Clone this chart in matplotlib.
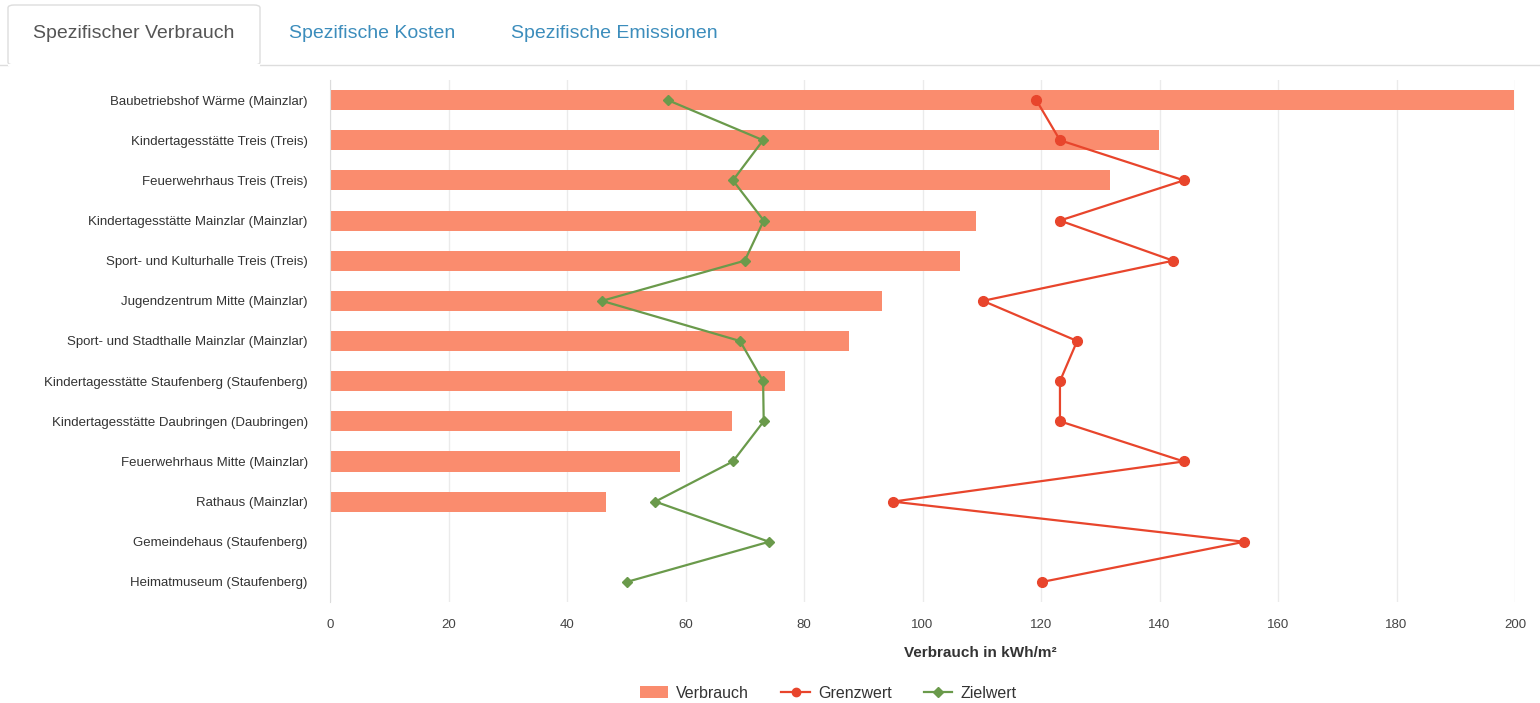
import matplotlib.pyplot as plt
from matplotlib.patches import FancyBboxPatch, Rectangle
from matplotlib.lines import Line2D

plt.rcParams['font.family'] = ['Liberation Sans', 'DejaVu Sans']

GEBAEUDE = [
    "Baubetriebshof Wärme (Mainzlar)",
    "Kindertagesstätte Treis (Treis)",
    "Feuerwehrhaus Treis (Treis)",
    "Kindertagesstätte Mainzlar (Mainzlar)",
    "Sport- und Kulturhalle Treis (Treis)",
    "Jugendzentrum Mitte (Mainzlar)",
    "Sport- und Stadthalle Mainzlar (Mainzlar)",
    "Kindertagesstätte Staufenberg (Staufenberg)",
    "Kindertagesstätte Daubringen (Daubringen)",
    "Feuerwehrhaus Mitte (Mainzlar)",
    "Rathaus (Mainzlar)",
    "Gemeindehaus (Staufenberg)",
    "Heimatmuseum (Staufenberg)",
]
VERBRAUCH = [199.8, 139.9, 131.6, 109.0, 106.3, 93.2, 87.6, 76.8, 67.8, 59.1, 46.6, None, None]
GRENZWERT = [119.2, 123.2, 144.1, 123.2, 142.3, 110.2, 126.1, 123.2, 123.2, 144.1, 95.0, 154.3, 120.2]
ZIELWERT = [57.0, 73.1, 68.0, 73.2, 70.0, 45.9, 69.2, 73.1, 73.2, 68.0, 54.9, 74.1, 50.1]
X_TICKS = [0, 20, 40, 60, 80, 100, 120, 140, 160, 180, 200]

TABS = ["Spezifischer Verbrauch", "Spezifische Kosten", "Spezifische Emissionen"]

BAR_COLOR = '#fa8c6e'
RED = '#e8452c'
GREEN = '#6a9a4b'
GRID = '#ebebeb'
TEXT = '#333333'

W, H = 1540, 703


def px(x, y):
    # pixel coords (from top-left) -> figure fraction
    return x / W, 1 - y / H


def main():
    fig = plt.figure(figsize=(W / 100, H / 100), dpi=100)

    # tab header
    tab_x0, tab_y0 = px(8, 65)
    tab_x1, tab_y1 = px(260, 5)
    tab = FancyBboxPatch((tab_x0, tab_y0), tab_x1 - tab_x0, tab_y1 - tab_y0,
                         boxstyle="round,pad=0,rounding_size=0.004",
                         transform=fig.transFigure, facecolor='white',
                         edgecolor='#dddddd', linewidth=1.0)
    fig.patches.append(tab)
    line_y = 1 - 65 / H
    fig.add_artist(Line2D([0, 8 / W], [line_y, line_y], color='#dddddd', lw=1.0))
    fig.add_artist(Line2D([260 / W, 1], [line_y, line_y], color='#dddddd', lw=1.0))
    # hide bottom border of active tab
    fig.add_artist(Line2D([9 / W, 259 / W], [line_y, line_y], color='white', lw=1.5))

    tab_centers = [134, 372, 614]
    for i, (name, cx) in enumerate(zip(TABS, tab_centers)):
        fx, fy = px(cx, 33)
        fig.text(fx, fy, name, ha='center', va='center', fontsize=14,
                 color='#555555' if i == 0 else '#3c8dbc')

    # chart
    ax = fig.add_axes([330 / W, 101 / H, 1185 / W, 522 / H])
    y = list(range(len(GEBAEUDE)))

    bar_vals = [v if v is not None else 0 for v in VERBRAUCH]
    ax.barh(y, bar_vals, height=0.5, color=BAR_COLOR, zorder=2)
    ax.plot(GRENZWERT, y, color=RED, lw=1.6, marker='o', markersize=7,
            zorder=3)
    ax.plot(ZIELWERT, y, color=GREEN, lw=1.6, marker='D', markersize=5.5,
            zorder=3)

    ax.set_xlim(0, 200)
    ax.set_ylim(len(GEBAEUDE) - 0.5, -0.5)
    ax.set_yticks(y)
    ax.set_yticklabels(GEBAEUDE, fontsize=9.5, color=TEXT)
    ax.set_xticks(X_TICKS)
    ax.set_xticklabels([str(t) for t in X_TICKS], fontsize=9.5, color='#444444')
    ax.tick_params(axis='both', length=0)
    ax.tick_params(axis='x', pad=12)
    ax.tick_params(axis='y', pad=16)
    ax.grid(axis='x', color=GRID, lw=1.0, zorder=0)
    ax.set_axisbelow(True)
    for side in ['top', 'right', 'bottom']:
        ax.spines[side].set_visible(False)
    ax.spines['left'].set_color('#dcdcdc')

    ax.set_xlabel("Verbrauch in kWh/m²", fontsize=11, color=TEXT,
                  fontweight='bold', labelpad=6)
    ax.xaxis.set_label_coords(0.549, -0.085)

    # legend
    handles = [
        Rectangle((0, 0), 1, 1, facecolor=BAR_COLOR, edgecolor='none'),
        Line2D([], [], color=RED, lw=1.6, marker='o', markersize=6),
        Line2D([], [], color=GREEN, lw=1.6, marker='D', markersize=5),
    ]
    fig.legend(handles, ["Verbrauch", "Grenzwert", "Zielwert"],
               loc='center', bbox_to_anchor=(828 / W, 1 - 693 / H), ncol=3,
               frameon=False, fontsize=11.5, handlelength=1.8,
               columnspacing=2.0, handletextpad=0.5,
               labelcolor=TEXT)

    fig.savefig("out.png", dpi=100, facecolor='white')


if __name__ == "__main__":
    main()
